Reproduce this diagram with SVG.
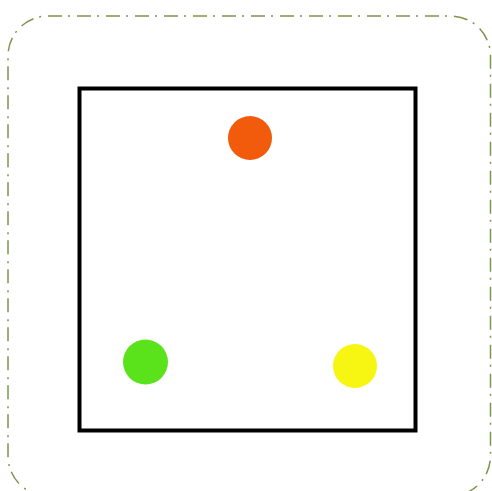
<svg xmlns="http://www.w3.org/2000/svg" width="492" height="491" viewBox="0 0 492 491">
  <style>
    .frame { fill: none; stroke: #7f944f; stroke-width: 1.5; stroke-dasharray: 14 6 2 7; }
    .box { fill: #ffffff; stroke: #000000; stroke-width: 4; }
    .dot { stroke: none; }
  </style>
  <rect width="492" height="491" fill="#ffffff"/>
  <g id="frame">
    <rect class="frame" x="8" y="16" width="482.5" height="480" rx="40" ry="40"/>
  </g>
  <g id="box">
    <rect class="box" x="79.5" y="88.5" width="336" height="342"/>
  </g>
  <g id="orange">
    <circle class="dot" cx="250" cy="138" r="22" fill="#f25a0c"/>
  </g>
  <g id="green">
    <circle class="dot" cx="145.5" cy="362" r="22.5" fill="#5ae31b"/>
  </g>
  <g id="yellow">
    <circle class="dot" cx="355" cy="366" r="22" fill="#f7f512"/>
  </g>
  <g id="connectors"></g>
</svg>
